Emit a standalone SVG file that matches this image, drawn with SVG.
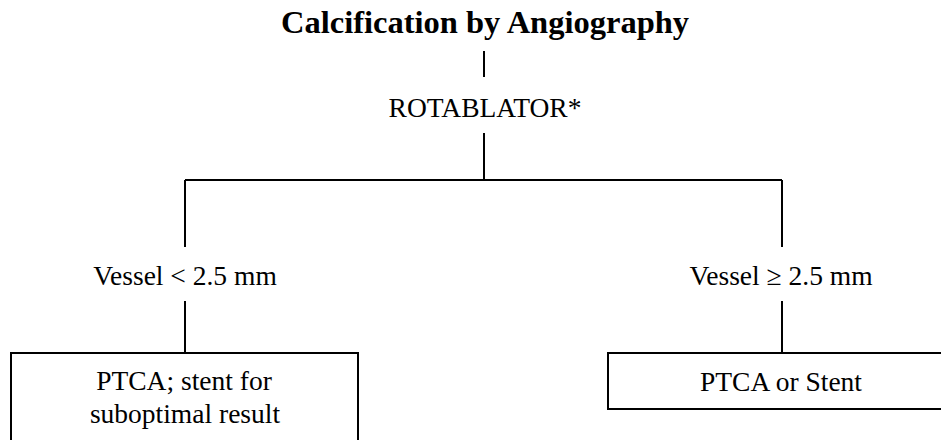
<svg xmlns="http://www.w3.org/2000/svg" width="941" height="440" viewBox="0 0 941 440">
<style>
text{font-family:"Liberation Serif","Times New Roman",serif;fill:#000;text-anchor:middle}
.t{font-size:32.5px;font-weight:bold}
.l{font-size:27.5px}
.c line{stroke:#000;stroke-width:2}
.b{fill:#fff;stroke:#000;stroke-width:2}
</style>
<rect width="941" height="440" fill="#fff"/>
<g class="c" id="connectors">
<line x1="484" y1="51" x2="484" y2="77"/>
<line x1="484" y1="133" x2="484" y2="180"/>
<line x1="185" y1="180" x2="782" y2="180"/>
<line x1="185" y1="180" x2="185" y2="247"/>
<line x1="782" y1="180" x2="782" y2="247"/>
<line x1="185" y1="301" x2="185" y2="353"/>
<line x1="782" y1="301" x2="782" y2="353"/>
</g>
<g id="title"><text class="t" x="485" y="33">Calcification by Angiography</text></g>
<g id="rotablator"><text class="l" x="485" y="117">ROTABLATOR*</text></g>
<g id="vessel-small"><text class="l" x="185" y="285">Vessel &lt; 2.5 mm</text></g>
<g id="vessel-large"><text class="l" x="781" y="285">Vessel ≥ 2.5 mm</text></g>
<g id="box-left">
<rect class="b" x="11" y="353" width="347" height="95"/>
<text class="l" x="184" y="390">PTCA; stent for</text>
<text class="l" x="185" y="423">suboptimal result</text>
</g>
<g id="box-right">
<rect class="b" x="608" y="353" width="340" height="56"/>
<text class="l" x="781" y="391">PTCA or Stent</text>
</g>
</svg>
